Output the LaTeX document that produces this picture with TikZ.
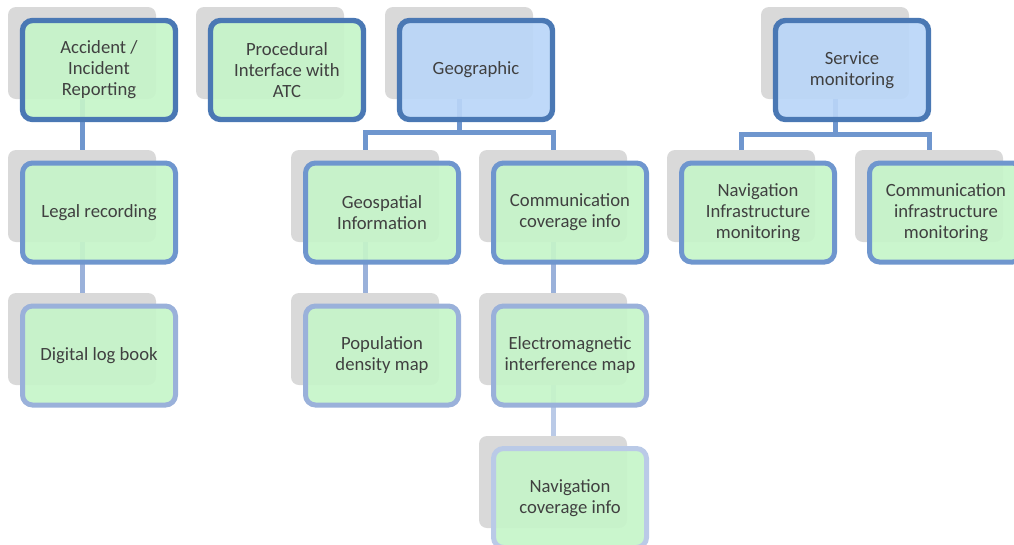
\documentclass[tikz,border=0pt]{standalone}
\usepackage{fontspec}
\setmainfont{Carlito}
\definecolor{shadowgray}{HTML}{D9D9D9}
\definecolor{greenfill}{HTML}{C6F5C9}
\definecolor{bluefill}{HTML}{BAD6F8}
\definecolor{edgetop}{HTML}{4A78B4}
\definecolor{edgeone}{HTML}{6F96CE}
\definecolor{edgetwo}{HTML}{9AB1DA}
\definecolor{edgethree}{HTML}{BACAE7}
\definecolor{labelgray}{HTML}{404040}
\begin{document}
\begin{tikzpicture}[x=0.75pt,y=-0.75pt,
  backcard/.style={draw=none,fill=shadowgray,rounded corners=6pt,
    minimum width=111pt,minimum height=69pt,inner sep=0pt},
  card/.style={fill opacity=0.92,text opacity=1,rounded corners=7.5pt,
    line width=4pt,minimum width=114.75pt,minimum height=74.25pt,
    inner sep=2pt,align=center,text=labelgray,
    font=\fontsize{14pt}{15.75pt}\selectfont},
  cardtop/.style={card,draw=edgetop,fill=greenfill},
  cardgeo/.style={card,draw=edgetop,fill=bluefill},
  cardone/.style={card,draw=edgeone,fill=greenfill,line width=3.75pt},
  cardtwo/.style={card,draw=edgetwo,fill=greenfill,line width=3.75pt},
  cardthree/.style={card,draw=edgethree,fill=greenfill,line width=3.75pt},
  linkone/.style={draw=edgeone,line width=3.75pt},
  linktwo/.style={draw=edgetwo,line width=3.75pt},
  linkthree/.style={draw=edgethree,line width=3.75pt}]
\useasboundingbox (0,0) rectangle (1014,544);
\clip (0,0) rectangle (1014,544);

% grey back cards (the hierarchy positions)
\node[backcard] (sAcc) at (82,53) {};
\node[backcard] (sPro) at (270,53) {};
\node[backcard] (sGeo) at (459,53) {};
\node[backcard] (sSrv) at (835,53) {};
\node[backcard] (sLeg) at (82,196) {};
\node[backcard] (sGsp) at (365,196) {};
\node[backcard] (sCom) at (553,196) {};
\node[backcard] (sNav) at (741,196) {};
\node[backcard] (sCin) at (929,196) {};
\node[backcard] (sLog) at (82,339) {};
\node[backcard] (sPop) at (365,339) {};
\node[backcard] (sEmi) at (553,339) {};
\node[backcard] (sNcv) at (553,482) {};

% connectors
\draw[linkone] (sAcc.south) -- (sLeg.north);
\draw[linkone] (sGeo.south) -- ++(0,33) coordinate (geoJoin);
\draw[linkone] (geoJoin) -| (sGsp.north);
\draw[linkone] (geoJoin) -| (sCom.north);
\draw[linkone] (sSrv.south) -- ++(0,35) coordinate (srvJoin);
\draw[linkone] (srvJoin) -| (sNav.north);
\draw[linkone] (srvJoin) -| (sCin.north);
\draw[linktwo] (sLeg.south) -- (sLog.north);
\draw[linktwo] (sGsp.south) -- (sPop.north);
\draw[linktwo] (sCom.south) -- (sEmi.north);
\draw[linkthree] (sEmi.south) -- (sNcv.north);

% front cards with labels
\node[cardtop] (Acc) at (99,70) {Accident /\\Incident\\Reporting};
\node[cardtop] (Pro) at (287,70) {Procedural\\Interface with\\ATC};
\node[cardgeo] (Geo) at (476,70) {Geographic};
\node[cardgeo] (Srv) at (852,70) {Service\\monitoring};
\node[cardone] (Leg) at (99,212.5) {Legal recording};
\node[cardone] (Gsp) at (382,212.5) {Geospatial\\Information};
\node[cardone] (Com) at (570,212.5) {Communication\\coverage info};
\node[cardone] (Nav) at (758,212.5) {Navigation\\Infrastructure\\monitoring};
\node[cardone] (Cin) at (946,212.5) {Communication\\infrastructure\\monitoring};
\node[cardtwo] (Log) at (99,355.5) {Digital log book};
\node[cardtwo] (Pop) at (382,355.5) {Population\\density map};
\node[cardtwo] (Emi) at (570,355.5) {Electromagnetic\\interference map};
\node[cardthree] (Ncv) at (570,498) {Navigation\\coverage info};
\end{tikzpicture}
\end{document}
